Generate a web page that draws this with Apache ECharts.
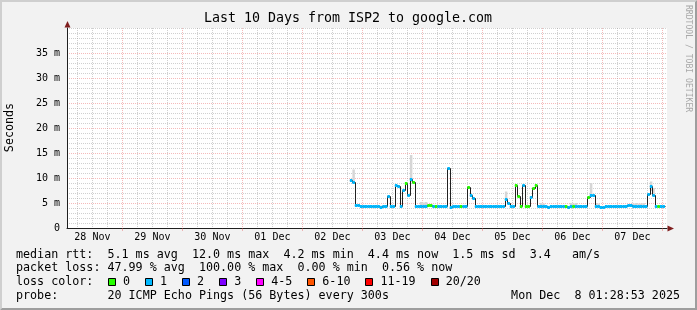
<!DOCTYPE html>
<html><head><meta charset="utf-8">
<script src="https://cdn.jsdelivr.net/npm/echarts@6/dist/echarts.min.js"></script>
<style>html,body{margin:0;padding:0;background:#f2f2f2;}#c{width:697px;height:310px;}</style>
</head><body><div id="c"></div>
<script>
// ---------- data ----------
const TITLE = 'Last 10 Days from ISP2 to google.com';
const Y_NAME = 'Seconds';
const WATERMARK = 'RRDTOOL / TOBI OETIKER';
// x axis in hours after 28 Nov 00:00
const START_HOUR = 1.85;
const END_HOUR = 241.85;
const dayLabels = ['28 Nov','29 Nov','30 Nov','01 Dec','02 Dec','03 Dec','04 Dec','05 Dec','06 Dec','07 Dec'];
const labelHours = [12, 36, 60, 84, 108, 132, 156, 180, 204, 228];
const dayHours = [24, 48, 72, 96, 120, 144, 168, 192, 216, 240];
// hourly median rtt (ms), first value is hour 115
const FIRST_HOUR = 115;
const medianMs = [
  9.7, 9.3, 4.6, 4.7, 4.5, 4.5, 4.4, 4.5, 4.4, 4.5,
  4.4, 4.4, 4.3, 4.4, 4.4, 6.4, 4.4, 4.4, 8.6, 8.5,
  4.4, 7.7, 9.0, 6.6, 9.8, 9.2, 4.4, 4.5, 4.4, 4.5,
  4.5, 4.6, 4.6, 4.5, 4.5, 4.4, 4.4, 4.4, 4.5, 12.0,
  4.3, 4.4, 4.4, 4.5, 4.5, 4.4, 4.4, 8.3, 6.7, 6.1,
  4.4, 4.4, 4.5, 4.5, 4.4, 4.4, 4.5, 4.4, 4.4, 4.4,
  4.5, 4.4, 5.8, 5.1, 4.4, 4.4, 8.7, 6.4, 4.4, 8.6,
  4.4, 4.4, 6.3, 8.1, 8.6, 4.5, 4.4, 4.4, 4.4, 4.3,
  4.4, 4.4, 4.4, 4.5, 4.4, 4.4, 4.4, 4.3, 4.4, 4.4,
  4.4, 4.4, 4.4, 4.4, 4.4, 6.3, 6.6, 6.6, 4.4, 4.4,
  4.3, 4.3, 4.4, 4.4, 4.4, 4.4, 4.4, 4.4, 4.4, 4.5,
  4.4, 4.6, 4.6, 4.4, 4.4, 4.4, 4.4, 4.4, 4.4, 6.8,
  8.5, 6.6, 4.4, 4.4, 4.4, 4.4
];
// packets lost (of 20) per hour -> index into lossColors
const lossBucket = [
  1,1,1,1,1,1,1,1,1,1,
  1,1,1,1,1,1,1,1,1,1,
  1,1,0,1,1,0,1,1,1,1,
  1,0,0,1,0,1,1,1,1,1,
  1,1,1,1,0,1,1,0,1,1,
  1,1,1,1,1,1,1,1,1,1,
  1,1,1,1,1,1,0,0,0,1,
  0,0,1,0,0,1,1,1,1,1,
  1,1,1,1,1,1,0,1,1,0,
  1,1,1,1,1,0,1,1,1,1,
  1,1,1,1,1,1,1,1,1,1,
  1,1,1,1,1,1,1,1,1,1,
  1,1,1,0,1,1
];
// smoke (spread of pings) for some hours
const smokeHours = [116, 123, 124, 125, 126, 127, 128, 139, 143, 144, 145, 155, 156, 157, 158, 177, 191, 192, 203, 204, 205, 211, 213, 214, 228, 229, 230, 231, 232, 235, 236];
const smokeLow   = [9.0, 4.0, 3.9, 4.0, 4.0, 3.9, 4.0, 9.2, 4.3, 4.3, 4.3, 4.0, 4.1, 4.0, 4.1, 5.6, 4.3, 4.3, 4.3, 4.3, 4.3, 6.3, 4.3, 4.3, 4.3, 4.3, 4.3, 4.3, 4.3, 7.4, 6.4];
const smokeHigh  = [11.7, 4.5, 4.5, 4.5, 4.5, 4.5, 4.5, 14.6, 5.2, 5.1, 5.2, 4.5, 4.5, 4.5, 4.5, 7.3, 5.0, 4.9, 5.0, 4.9, 5.0, 9.0, 5.0, 4.9, 4.9, 5.0, 4.9, 4.9, 5.0, 9.3, 8.0];
const lossLabels = ['0', '1', '2', '3', '4-5', '6-10', '11-19', '20/20'];
const lossColors = ['#26ff00', '#00b8ff', '#0059ff', '#7e00ff', '#ff00ff', '#ff5500', '#ff0000', '#a10000'];
const legendLine1 = 'median rtt:  5.1 ms avg  12.0 ms max  4.2 ms min  4.4 ms now  1.5 ms sd  3.4   am/s';
const legendLine2 = 'packet loss: 47.99 % avg  100.00 % max  0.00 % min  0.56 % now';
const legendLossTitle = 'loss color:';
const legendLine4 = 'probe:       20 ICMP Echo Pings (56 Bytes) every 300s';
const legendDate = 'Mon Dec  8 01:28:53 2025';

// ---------- styles ----------
const MONO = '"DejaVu Sans Mono", monospace';
const GRID_MINOR = 'rgba(150,150,150,0.45)';
const GRID_MAJOR = 'rgba(230,90,90,0.42)';
const AXIS_COL = '#1f1f1f';
const ARROW_COL = '#801f1f';
const LEG_FS = 11.7;
const CH_W = LEG_FS * 0.602;

const medianData = medianMs.map((v, i) => [FIRST_HOUR + i, v, i + 1 < medianMs.length ? medianMs[i + 1] : v, lossBucket[i]]);
const smokeData = smokeHours.map((h, i) => [h, smokeLow[i], smokeHigh[i]]);

const chart = echarts.init(document.getElementById('c'), null, {renderer: 'canvas'});

const graphic = [];
// 3d border
graphic.push({type: 'polygon', silent: true, shape: {points: [[0, 310], [2, 308], [2, 2], [695, 2], [697, 0], [0, 0]]}, style: {fill: '#cfcfcf'}});
graphic.push({type: 'polygon', silent: true, shape: {points: [[2, 308], [695, 308], [695, 2], [697, 0], [697, 310], [0, 310]]}, style: {fill: '#9e9e9e'}});
// title
graphic.push({type: 'text', x: 348, y: 19, style: {text: TITLE, fontFamily: MONO, fontSize: 13.3, fill: '#000', align: 'center', textAlign: 'center', verticalAlign: 'middle', textVerticalAlign: 'middle'}});
// y name
graphic.push({type: 'text', x: 10, y: 127.5, rotation: Math.PI / 2, style: {text: Y_NAME, fontFamily: MONO, fontSize: LEG_FS, fill: '#000', align: 'center', textAlign: 'center', verticalAlign: 'middle', textVerticalAlign: 'middle'}});
// watermark
graphic.push({type: 'text', x: 688, y: 5, rotation: -Math.PI / 2, style: {text: WATERMARK, fontFamily: MONO, fontSize: 8.1, fill: '#a8a8a8', align: 'left', textAlign: 'left', verticalAlign: 'middle', textVerticalAlign: 'middle'}});
// arrows
graphic.push({type: 'polygon', silent: true, z: 100, shape: {points: [[67.5, 21], [64.5, 27.5], [70.5, 27.5]]}, style: {fill: ARROW_COL}});
graphic.push({type: 'polygon', silent: true, z: 100, shape: {points: [[674, 228.5], [667.5, 225.5], [667.5, 231.5]]}, style: {fill: ARROW_COL}});
// legend
const rowY = [254.7, 268.4, 282.3, 296];
function legText(x, y, t, align) {
  graphic.push({type: 'text', x: x, y: y, style: {text: t, fontFamily: MONO, fontSize: LEG_FS, fill: '#000', align: align || 'left', textAlign: align || 'left', verticalAlign: 'middle', textVerticalAlign: 'middle'}});
}
legText(16, rowY[0], legendLine1);
legText(16, rowY[1], legendLine2);
legText(16, rowY[2], legendLossTitle);
legText(16, rowY[3], legendLine4);
legText(680, rowY[3], legendDate, 'right');
let bx = 108;
lossLabels.forEach((lab, i) => {
  graphic.push({type: 'rect', silent: true, shape: {x: Math.round(bx) + 0.5, y: 278.5, width: 7, height: 7}, style: {fill: lossColors[i], stroke: '#000', lineWidth: 1}});
  legText(bx + 15, rowY[2], lab);
  bx += 15 + lab.length * CH_W + 15;
});

const option = {
  animation: false,
  backgroundColor: '#f2f2f2',
  graphic: graphic,
  grid: [
    {left: 67, top: 28, width: 600, height: 200, show: true, backgroundColor: '#ffffff', borderWidth: 0},
    {left: 67 + (6 - START_HOUR) * 2.5, top: 28, width: 585, height: 200, show: false}
  ],
  xAxis: [
    {gridIndex: 0, type: 'value', min: START_HOUR, max: END_HOUR,
     splitLine: {show: false},
     axisLine: {show: true, onZero: false, lineStyle: {color: AXIS_COL, width: 1}},
     axisTick: {show: true, customValues: dayHours, length: 3, lineStyle: {color: GRID_MAJOR}},
     axisLabel: {show: true, customValues: labelHours, margin: 4, fontFamily: MONO, fontSize: 10, color: '#000',
       formatter: function (v) { const k = labelHours.indexOf(v); return k >= 0 ? dayLabels[k] : ''; }}},
    {gridIndex: 1, type: 'value', min: 6, max: 240, interval: 6,
     axisLine: {show: false}, axisTick: {show: false}, axisLabel: {show: false},
     splitLine: {show: true, lineStyle: {color: [GRID_MINOR, GRID_MINOR, GRID_MINOR, GRID_MAJOR], type: [1, 1], width: 1}}}
  ],
  yAxis: [
    {gridIndex: 0, type: 'value', min: 0, max: 40, interval: 5,
     axisLine: {show: true, lineStyle: {color: AXIS_COL, width: 1}},
     axisTick: {show: false},
     axisLabel: {margin: 7, fontFamily: MONO, fontSize: 10, color: '#000',
       formatter: function (v) { return v === 0 ? '0' : (v < 40 ? v + ' m' : ''); }},
     splitLine: {show: true, lineStyle: {color: [GRID_MAJOR, GRID_MAJOR, GRID_MAJOR, GRID_MAJOR, GRID_MAJOR, GRID_MAJOR, GRID_MAJOR, GRID_MAJOR, GRID_MINOR], type: [1, 1], width: 1}},
     minorTick: {show: false, splitNumber: 5},
     minorSplitLine: {show: true, lineStyle: {color: GRID_MINOR, type: [1, 1], width: 1}}},
    {gridIndex: 1, type: 'value', min: 0, max: 40, show: false}
  ],
  series: [
    {type: 'custom', name: 'smoke', xAxisIndex: 0, yAxisIndex: 0, z: 3, data: smokeData,
     dimensions: ['h', 'lo', 'hi'], encode: {x: 0, y: 2},
     renderItem: function (params, api) {
       const h = api.value(0);
       const a = api.coord([h, api.value(2)]);
       const b = api.coord([h + 1, api.value(1)]);
       return {type: 'rect', shape: {x: a[0], y: a[1], width: b[0] - a[0], height: b[1] - a[1]}, style: {fill: '#d6d6d6'}};
     }},
    {type: 'custom', name: 'median', xAxisIndex: 0, yAxisIndex: 0, z: 4, data: medianData,
     dimensions: ['h', 'v', 'vn', 'loss'], encode: {x: 0, y: 1},
     renderItem: function (params, api) {
       const h = api.value(0), v = api.value(1), vn = api.value(2);
       const p0 = api.coord([h, v]), p1 = api.coord([h + 1, v]), p2 = api.coord([h + 1, vn]);
       const xr = Math.round(p1[0]) + 0.5;
       return {type: 'polyline', shape: {points: [[p0[0], Math.round(p0[1]) + 0.5], [xr, Math.round(p1[1]) + 0.5], [xr, Math.round(p2[1]) + 0.5]]}, style: {stroke: '#202020', lineWidth: 1, fill: null}};
     }},
    {type: 'custom', name: 'loss', xAxisIndex: 0, yAxisIndex: 0, z: 5, data: medianData,
     dimensions: ['h', 'v', 'vn', 'loss'], encode: {x: 0, y: 1},
     renderItem: function (params, api) {
       const h = api.value(0), v = api.value(1);
       const p0 = api.coord([h, v]), p1 = api.coord([h + 1, v]);
       return {type: 'rect', shape: {x: p0[0], y: Math.round(p0[1]) - 1, width: p1[0] - p0[0], height: 3}, style: {fill: lossColors[api.value(3)]}};
     }}
  ]
};
chart.setOption(option);
</script>
</body></html>
